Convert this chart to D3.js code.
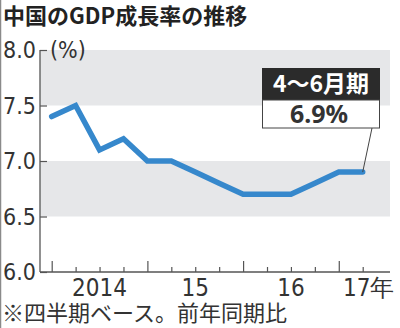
<!DOCTYPE html>
<html><head><meta charset="utf-8">
<script src="https://cdn.jsdelivr.net/npm/d3@7"></script>
<style>
html,body{margin:0;padding:0;background:#fff;}
svg{display:block;}
.num{font-family:"Liberation Sans Narrow","DejaVu Sans Condensed","Roboto Condensed",sans-serif;}
.jp{font-family:"Noto Sans CJK JP","Noto Sans",sans-serif;}
</style>
</head><body>
<svg id="c" width="400" height="328"></svg>
<script>
const quarters = ["2014Q1","2014Q2","2014Q3","2014Q4","2015Q1","2015Q2","2015Q3","2015Q4","2016Q1","2016Q2","2016Q3","2016Q4","2017Q1","2017Q2"];
const growth = [7.4,7.5,7.1,7.2,7.0,7.0,6.9,6.8,6.7,6.7,6.7,6.8,6.9,6.9];
const yTicks = [6.0,6.5,7.0,7.5,8.0];
const yTickLabels = ["6.0","6.5","7.0","7.5","8.0"];
const bands = [[7.5,8.0],[6.5,7.0]];
const yearLabels = ["2014","15","16","17年"];
const yearStartIdx = [0,4,8,12];
const title = "中国のGDP成長率の推移";
const note = "※四半期ベース。前年同期比";
const unit = "(%)";
const calloutHead = "4～6月期";
const calloutValue = "6.9%";

const svg = d3.select("#c");
const x = d3.scaleLinear().domain([0, quarters.length-1]).range([51.7, 362.7]);
const y = d3.scaleLinear().domain([6,8]).range([272,50]);
const axisLeft = 40, axisRight = 390;
const step = x(1)-x(0);

// left border
svg.append("line").attr("x1",0.5).attr("x2",0.5).attr("y1",0).attr("y2",328).attr("stroke","#8a8a8a").attr("stroke-width",1.5);

// title
svg.append("text").attr("class","jp").attr("x",3).attr("y",24).attr("font-size",22).attr("font-weight","bold").attr("fill","#222").text(title);

// bands
svg.selectAll("rect.band").data(bands).enter().append("rect").attr("class","band")
  .attr("x",axisLeft).attr("width",axisRight-axisLeft)
  .attr("y",d=>y(d[1])).attr("height",d=>y(d[0])-y(d[1]))
  .attr("fill","#e6e7e9");

// y axis
const ya = d3.axisRight(y).tickValues(yTicks).tickSize(7).tickFormat("");
const gy = svg.append("g").attr("transform",`translate(${axisLeft},0)`).call(ya);
gy.select(".domain").remove();
gy.selectAll(".tick text").remove();
gy.selectAll(".tick line").attr("stroke","#555").attr("stroke-width",1.2);
svg.append("line").attr("x1",axisLeft).attr("x2",axisLeft).attr("y1",y(8)).attr("y2",y(6)).attr("stroke","#555").attr("stroke-width",1.3);
svg.selectAll("text.yl").data(yTicks).enter().append("text").attr("class","yl num")
  .attr("x",36).attr("y",d=>y(d)+8).attr("text-anchor","end").attr("font-size",23).attr("fill","#333")
  .text((d,i)=>yTickLabels[i]);
svg.append("text").attr("class","num").attr("x",50).attr("y",58).attr("font-size",23).attr("fill","#333").text(unit);

// x axis
svg.append("line").attr("x1",axisLeft).attr("x2",axisRight).attr("y1",272).attr("y2",272).attr("stroke","#555").attr("stroke-width",1.3);
const xa = d3.axisTop(x).tickValues(d3.range(quarters.length)).tickFormat("").tickSize(5);
const gx = svg.append("g").attr("transform","translate(0,272)").call(xa);
gx.select(".domain").remove();
gx.selectAll(".tick text").remove();
gx.selectAll(".tick line").attr("stroke","#555").attr("stroke-width",1.2)
  .attr("y2",d=>yearStartIdx.includes(d)?-11:-5);
svg.selectAll("text.xl").data(yearLabels).enter().append("text").attr("class","xl num")
  .attr("x",(d,i)=> i<3 ? x(yearStartIdx[i])+step*2 : x(yearStartIdx[i])+step*1.25)
  .attr("y",296).attr("text-anchor","middle").attr("font-size",24).attr("fill","#333")
  .text(d=>d);

// line
const line = d3.line().x((d,i)=>x(i)).y(d=>y(d));
svg.append("path").datum(growth).attr("d",line).attr("fill","none")
  .attr("stroke","#3688cc").attr("stroke-width",5.5).attr("stroke-linejoin","miter").attr("stroke-linecap","round");

// callout
const li = growth.length-1;
svg.append("line").attr("x1",372).attr("y1",128).attr("x2",x(li)).attr("y2",y(growth[li]))
  .attr("stroke","#444").attr("stroke-width",1);
svg.append("rect").attr("x",262).attr("y",68).attr("width",118).attr("height",32).attr("fill","#2b2b2b");
svg.append("rect").attr("x",262.5).attr("y",100).attr("width",117).attr("height",28).attr("fill","#fff").attr("stroke","#444").attr("stroke-width",1);
svg.append("text").attr("class","jp").attr("x",321).attr("y",92).attr("text-anchor","middle").attr("font-size",23).attr("font-weight","bold").attr("fill","#fff").text(calloutHead);
svg.append("text").attr("font-family","'Noto Sans',sans-serif").attr("x",319).attr("y",123).attr("text-anchor","middle").attr("font-size",25).attr("font-weight","bold").attr("fill","#333").text(calloutValue);

// note
svg.append("text").attr("class","jp").attr("x",2).attr("y",321).attr("font-size",22).attr("fill","#333").text(note);
</script>
</body></html>
